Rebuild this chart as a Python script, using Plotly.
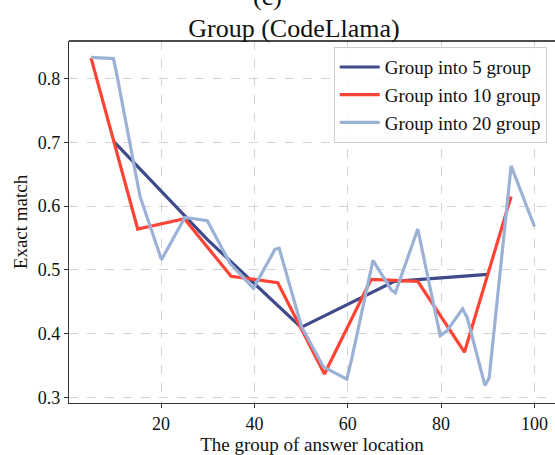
import plotly.graph_objects as go

# Group into 5 groups
x5 = [10, 30, 50, 70, 90]
y5 = [0.700, 0.547, 0.410, 0.482, 0.493]

# Group into 10 groups
x10 = [5, 15, 25, 35, 45, 55, 65, 75, 85, 95]
y10 = [0.832, 0.564, 0.580, 0.490, 0.480, 0.337, 0.485, 0.482, 0.371, 0.615]

# Group into 20 groups (vertices)
x20 = [5, 9.8, 10.5, 15.5, 20.1, 25.1, 29.9, 34.8, 39.8, 44.4, 45.3, 50.1, 54.8,
       59.8, 60.8, 65.4, 69.3, 70.2, 75.0, 79.8, 81.2, 84.6, 85.6, 89.4, 90.3, 95.0, 100]
y20 = [0.833, 0.831, 0.807, 0.615, 0.516, 0.582, 0.577, 0.510, 0.471, 0.532, 0.534, 0.411, 0.348,
       0.329, 0.359, 0.515, 0.469, 0.464, 0.564, 0.397, 0.404, 0.439, 0.425, 0.319, 0.331, 0.663, 0.568]

names = ["Group into 5 group", "Group into 10 group", "Group into 20 group"]
colors = ["#3e4a89", "#ff4436", "#9bb2d6"]

xticks = [20, 40, 60, 80, 100]
yticks = [0.3, 0.4, 0.5, 0.6, 0.7, 0.8]

FONT = "'Liberation Serif', 'Times New Roman', Times, serif"

fig = go.Figure()
for xs, ys, nm, c in zip([x5, x10, x20], [y5, y10, y20], names, colors):
    fig.add_trace(go.Scatter(x=xs, y=ys, mode="lines", name=nm,
                             line=dict(color=c, width=3.2)))

fig.update_layout(
    width=555, height=455,
    margin=dict(l=69, r=0, t=41, b=52),
    paper_bgcolor="white", plot_bgcolor="white",
    font=dict(family=FONT, color="#111", size=18),
    title=dict(text="Group (CodeLlama)", x=(294 - 69) / 486, xref="paper",
               xanchor="center", y=1 - 37 / 455, yanchor="bottom",
               font=dict(size=26, family=FONT, color="#111")),
    showlegend=True,
    legend=dict(x=0.983, y=0.983, xanchor="right", yanchor="top",
                bgcolor="rgba(255,255,255,0.85)", bordercolor="#cccccc", borderwidth=1,
                font=dict(size=19, family=FONT, color="#111"), itemwidth=40),
    annotations=[dict(text="(c)", x=(267 - 69) / 486, xref="paper", y=(403 - 13) / 362,
                      yref="paper", xanchor="center", yanchor="bottom", showarrow=False,
                      font=dict(size=26, family=FONT, color="#111"))],
    shapes=[dict(type="line", xref="paper", yref="paper", x0=0, x1=1, y0=1, y1=1,
                 line=dict(color="#111", width=1.3))],
)

fig.update_xaxes(range=[0.28, 104.4], tickvals=xticks, ticktext=[str(v) for v in xticks],
                 showgrid=True, gridcolor="#d3d3d3", griddash="dash", gridwidth=1,
                 zeroline=False, showline=True, linecolor="#333", linewidth=1.3,
                 ticks="outside", ticklen=4, tickcolor="#333",
                 tickfont=dict(size=18, family=FONT),
                 title=dict(text="The group of answer location", font=dict(size=19, family=FONT),
                            standoff=2))
fig.update_yaxes(range=[0.2915, 0.8585], tickvals=yticks, ticktext=[f"{v:.1f}" for v in yticks],
                 showgrid=True, gridcolor="#d3d3d3", griddash="dash", gridwidth=1,
                 zeroline=False, showline=True, linecolor="#333", linewidth=1.3,
                 ticks="outside", ticklen=4, tickcolor="#333",
                 tickfont=dict(size=18, family=FONT),
                 title=dict(text="Exact match", font=dict(size=19, family=FONT), standoff=5))

fig.write_html("out.html")
